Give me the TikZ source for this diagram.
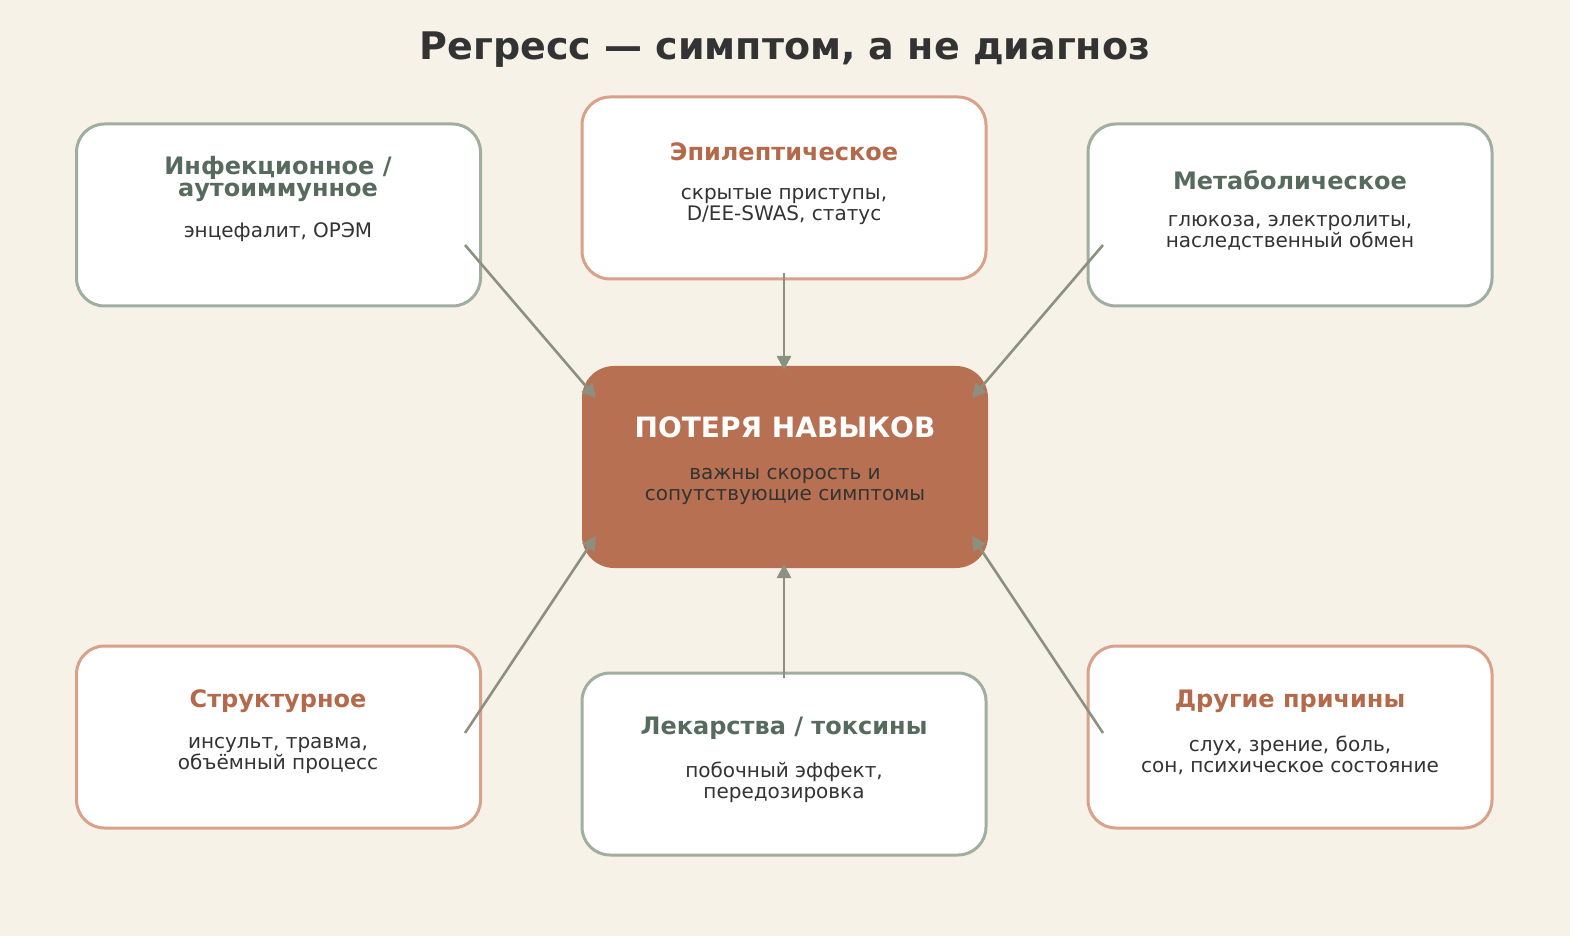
\documentclass[tikz,border=0pt]{standalone}
\usepackage{fontspec}
\setmainfont{DejaVu Sans}
\usetikzlibrary{arrows.meta}
\definecolor{bg}{HTML}{F6F2E8}
\definecolor{gb}{HTML}{9FAE9F}
\definecolor{sb}{HTML}{D9A08A}
\definecolor{gh}{HTML}{566B5E}
\definecolor{oh}{HTML}{B5694B}
\definecolor{tx}{HTML}{333333}
\definecolor{cf}{HTML}{B87052}
\definecolor{ar}{HTML}{8C9080}
\begin{document}
\begin{tikzpicture}[x=0.5pt,y=-0.5pt,
 box/.style={draw,line width=1.5pt,fill=white,rounded corners=14pt,minimum width=202pt,minimum height=91pt},
 gbox/.style={box,draw=gb}, sbox/.style={box,draw=sb},
 hd/.style={font=\bfseries\fontsize{12}{13}\selectfont,align=center},
 bd/.style={font=\fontsize{10}{10.5}\selectfont,text=tx,align=center},
 arr/.style={draw=ar,line width=1.3pt,-{Triangle[length=7pt,width=7pt]}}]
\fill[bg] (0,0) rectangle (1570,936);
\node[font=\bfseries\fontsize{19}{20}\selectfont,text=tx] (title) at (785,50) {Регресс — симптом, а не диагноз};
\node[gbox] (inf) at (278.5,215) {};
\node[sbox] (epi) at (784,188) {};
\node[gbox] (met) at (1290,215) {};
\node[sbox] (str) at (278.5,737) {};
\node[gbox] (drg) at (784,764) {};
\node[sbox] (oth) at (1290,737) {};
\node[fill=cf,rounded corners=16pt,minimum width=203pt,minimum height=101pt] (ctr) at (785,467) {};
\node[hd,text=gh] (infh) at (278,179) {Инфекционное /\\[-2pt]аутоиммунное};
\node[bd] (infb) at (278,232) {энцефалит, ОРЭМ};
\node[hd,text=oh] (epih) at (784,152) {Эпилептическое};
\node[bd] (epib) at (784,206) {скрытые приступы,\\D/EE-SWAS, статус};
\node[hd,text=gh] (meth) at (1290,180) {Метаболическое};
\node[bd] (metb) at (1290,233) {глюкоза, электролиты,\\наследственный обмен};
\node[hd,text=oh] (strh) at (278,701) {Структурное};
\node[bd] (strb) at (278,755) {инсульт, травма,\\объёмный процесс};
\node[hd,text=gh] (drgh) at (784,728) {Лекарства / токсины};
\node[bd] (drgb) at (784,782) {побочный эффект,\\передозировка};
\node[hd,text=oh] (othh) at (1290,701) {Другие причины};
\node[bd] (othb) at (1290,755) {слух, зрение, боль,\\сон, психическое состояние};
\node[font=\bfseries\fontsize{14}{15}\selectfont,text=white] (ctrh) at (785,427) {ПОТЕРЯ НАВЫКОВ};
\node[bd] (ctrb) at (785,486) {важны скорость и\\сопутствующие симптомы};
\coordinate (a1) at (465,245); \coordinate (b1) at (596,398);
\coordinate (a2) at (784,273); \coordinate (b2) at (784,370);
\coordinate (a3) at (1103,245); \coordinate (b3) at (972,398);
\coordinate (a4) at (465,733); \coordinate (b4) at (596,536);
\coordinate (a5) at (784,678); \coordinate (b5) at (784,564);
\coordinate (a6) at (1103,733); \coordinate (b6) at (972,536);
\foreach \i in {1,...,6} \draw[arr] (a\i) -- (b\i);
\end{tikzpicture}
\end{document}
